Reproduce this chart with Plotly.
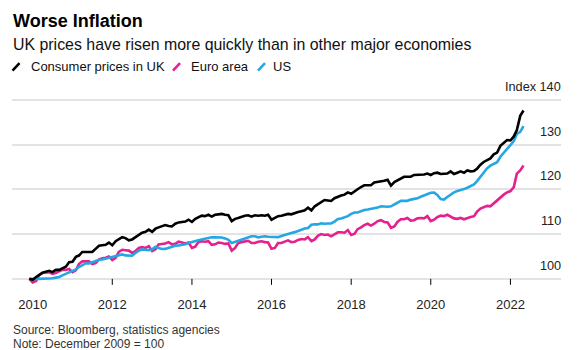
import pandas as pd
import plotly.graph_objects as go

# ---------------- data ----------------
months = pd.date_range("2009-12-01", periods=150, freq="MS")

uk = [100.0,
      99.8, 100.4, 100.8, 101.4, 101.6, 101.8, 101.5, 102.0, 102.0, 102.3, 102.7, 103.7,
      103.8, 104.9, 105.2, 106.0, 106.0, 106.0, 106.0, 106.7, 107.4, 107.5, 107.6, 108.1,
      107.5, 108.4, 108.9, 109.3, 109.1, 108.6, 108.8, 109.3, 109.7, 110.3, 110.5, 111.0,
      110.5, 111.2, 111.5, 111.8, 112.0, 111.8, 111.7, 112.3, 112.6, 112.7, 112.8, 113.2,
      112.7, 113.4, 113.7, 114.1, 114.0, 114.3, 113.9, 114.3, 114.4, 114.5, 114.3, 114.2,
      112.9, 113.4, 113.6, 113.9, 114.1, 114.2, 113.9, 114.2, 114.1, 114.2, 114.1, 114.3,
      113.2, 113.6, 114.0, 114.1, 114.3, 114.5, 114.4, 114.7, 114.9, 115.1, 115.3, 115.9,
      115.3, 116.2, 116.6, 117.2, 117.6, 117.5, 117.4, 118.0, 118.4, 118.6, 118.8, 119.3,
      119.0, 119.6, 120.0, 120.5, 120.9, 120.9, 120.9, 121.5, 121.6, 121.8, 121.9, 122.1,
      120.8, 121.6, 122.0, 122.5, 122.8, 122.8, 122.8, 123.2, 123.2, 123.3, 123.3, 123.5,
      123.2, 123.6, 123.7, 123.4, 123.4, 123.5, 124.0, 123.4, 123.7, 124.0, 123.7, 124.2,
      124.0, 124.1, 124.6, 125.5, 126.1, 126.6, 126.9, 127.8, 128.2, 129.7, 130.4, 131.0,
      130.9, 131.8, 133.2, 136.4, 137.6]

euro = [100.0,
        99.2, 99.5, 100.8, 101.3, 101.4, 101.5, 101.1, 101.3, 101.7, 102.0, 102.0, 102.2,
        101.5, 101.9, 103.3, 103.9, 103.9, 103.9, 103.3, 103.5, 104.3, 104.6, 104.7, 105.0,
        104.2, 104.7, 106.0, 106.5, 106.4, 106.3, 105.8, 106.2, 106.9, 107.1, 106.9, 107.3,
        106.2, 106.6, 107.7, 107.8, 107.9, 108.2, 107.7, 107.8, 108.3, 108.1, 107.9, 108.1,
        106.9, 107.2, 108.2, 108.4, 108.3, 108.4, 107.6, 107.7, 108.1, 108.0, 107.8, 107.9,
        106.3, 106.9, 108.0, 108.2, 108.4, 108.5, 108.0, 108.0, 108.3, 108.4, 108.2, 108.1,
        106.7, 106.9, 108.0, 108.0, 108.3, 108.6, 108.2, 108.3, 108.7, 108.9, 108.8, 109.3,
        108.4, 108.8, 109.6, 110.0, 109.8, 109.9, 109.5, 109.9, 110.4, 110.4, 110.3, 110.9,
        109.8, 110.1, 111.1, 111.5, 112.0, 112.3, 111.9, 112.3, 112.9, 113.1, 112.7, 112.6,
        111.4, 111.7, 112.7, 113.3, 113.3, 113.6, 113.0, 113.1, 113.5, 113.6, 113.5, 114.0,
        112.9, 113.2, 113.8, 114.1, 114.0, 114.3, 113.9, 113.5, 113.4, 113.6, 113.3, 113.6,
        113.8, 114.0, 115.0, 115.7, 116.0, 116.3, 116.2, 116.9, 117.4, 118.3, 118.8, 119.3,
        119.6, 120.5, 123.5, 124.2, 125.3]

us = [100.0,
      100.06, 99.97, 100.00, 100.03, 99.97, 99.93, 100.12, 100.27, 100.43, 100.78, 101.03, 101.44,
      101.77, 102.09, 102.62, 103.10, 103.43, 103.43, 103.70, 104.03, 104.26, 104.33, 104.52, 104.54,
      104.83, 105.05, 105.27, 105.45, 105.23, 105.14, 105.17, 105.78, 106.29, 106.58, 106.40, 106.38,
      106.59, 107.17, 106.87, 106.65, 106.69, 106.95, 107.16, 107.41, 107.45, 107.51, 107.71, 107.99,
      108.25, 108.37, 108.60, 108.80, 109.00, 109.15, 109.27, 109.25, 109.26, 109.24, 109.03, 108.70,
      108.01, 108.28, 108.57, 108.68, 109.04, 109.34, 109.52, 109.52, 109.27, 109.38, 109.51, 109.39,
      109.34, 109.20, 109.31, 109.58, 109.85, 110.13, 110.25, 110.43, 110.72, 110.96, 111.22, 111.35,
      112.09, 112.20, 112.16, 112.39, 112.29, 112.36, 112.39, 112.79, 113.38, 113.47, 113.77, 114.01,
      114.50, 114.81, 114.83, 115.13, 115.39, 115.49, 115.58, 115.79, 115.91, 116.22, 116.15, 116.11,
      116.20, 116.55, 116.99, 117.43, 117.46, 117.42, 117.69, 117.80, 117.98, 118.32, 118.65, 118.99,
      119.22, 119.28, 118.74, 117.80, 117.69, 118.27, 118.87, 119.31, 119.62, 119.77, 120.04, 120.34,
      120.65, 121.08, 121.83, 122.77, 123.56, 124.68, 125.27, 125.61, 126.04, 127.26, 128.15, 128.88,
      129.72, 130.75, 132.37, 132.81, 134.11]

series_names = ["Consumer prices in UK", "Euro area", "US"]
y_ticks = [100, 110, 120, 130, 140]
y_tick_text = ["100", "110", "120", "130", "Index 140"]
x_tick_years = [2010, 2012, 2014, 2016, 2018, 2020, 2022]
x_tick_marks = [2012, 2014, 2016, 2018, 2020, 2022]

title = "Worse Inflation"
subtitle = "UK prices have risen more quickly than in other major economies"
source = "Source: Bloomberg, statistics agencies"
note = "Note: December 2009 = 100"

# ---------------- style ----------------
FONT = "Liberation Sans, Arial, sans-serif"
BLACK = "#000000"
PINK = "#e6208d"
BLUE = "#24a7e3"
W, H = 581, 350
L, R = 12, 561            # plot area pixel edges
Y_LO, Y_HI = 98.4, 141.5
PX_PER_UNIT = 4.475
TOP = 100 - (Y_HI - 140) * PX_PER_UNIT
BOT = 279 + (100 - Y_LO) * PX_PER_UNIT


def px_x(px):
    return (px - L) / (R - L)


def px_y(py):
    return (BOT - py) / (BOT - TOP)


fig = go.Figure()
for name, vals, col in [(series_names[1], euro, PINK), (series_names[2], us, BLUE), (series_names[0], uk, BLACK)]:
    fig.add_trace(go.Scatter(x=months, y=vals, name=name, mode="lines",
                             line=dict(color=col, width=2.6), hoverinfo="skip"))

shapes = []
# baseline axis
shapes.append(dict(type="line", xref="paper", yref="y", x0=0, x1=1, y0=y_ticks[0], y1=y_ticks[0],
                   line=dict(color="#000", width=1.3), layer="below"))
# tick marks
for yr in x_tick_marks:
    d = f"{yr}-01-01"
    shapes.append(dict(type="line", xref="x", yref="y", x0=d, x1=d,
                       y0=y_ticks[0], y1=y_ticks[0] - 6 / PX_PER_UNIT,
                       line=dict(color="#000", width=1)))
# legend slashes
for x0, col in [(12.5, BLACK), (173, PINK), (258, BLUE)]:
    shapes.append(dict(type="line", xref="paper", yref="paper",
                       x0=px_x(x0), x1=px_x(x0 + 7), y0=px_y(71), y1=px_y(63.5),
                       line=dict(color=col, width=2.5)))

ann = []
ann.append(dict(text=f"<b>{title}</b>", x=px_x(11), y=px_y(21.5), xanchor="left", yanchor="middle",
                font=dict(size=18, color="#000", family=FONT)))
ann.append(dict(text=subtitle, x=px_x(11), y=px_y(44.5), xanchor="left", yanchor="middle",
                font=dict(size=15.9, color="#111", family=FONT)))
for x0, name in [(28.5, series_names[0]), (188.5, series_names[1]), (271, series_names[2])]:
    ann.append(dict(text=name, x=px_x(x0), y=px_y(67), xanchor="left", yanchor="middle",
                    font=dict(size=13, color="#111", family=FONT)))
for v, t in zip(y_ticks, y_tick_text):
    ann.append(dict(text=t, xref="paper", yref="y", x=px_x(563), y=v, yshift=13,
                    xanchor="right", yanchor="middle",
                    font=dict(size=12.7, color="#222", family=FONT)))
ann.append(dict(text=source, x=px_x(11), y=px_y(330.5), xanchor="left", yanchor="middle",
                font=dict(size=12, color="#333", family=FONT)))
ann.append(dict(text=note, x=px_x(11), y=px_y(344), xanchor="left", yanchor="middle",
                font=dict(size=12, color="#333", family=FONT)))
for a in ann:
    a.setdefault("xref", "paper")
    a.setdefault("yref", "paper")
    a["showarrow"] = False

fig.update_layout(
    width=W, height=H, autosize=False,
    margin=dict(l=L, r=W - R, t=TOP, b=H - BOT, pad=0),
    paper_bgcolor="white", plot_bgcolor="white",
    showlegend=False,
    shapes=shapes, annotations=ann,
    xaxis=dict(type="date", range=["2009-06-25", "2023-04-10"],
               tickvals=[f"{y}-01-01" for y in x_tick_years],
               ticktext=[str(y) for y in x_tick_years],
               ticks="outside", ticklen=6, tickcolor="rgba(0,0,0,0)",
               showgrid=False, zeroline=False, showline=False,
               tickfont=dict(size=13, color="#222", family=FONT)),
    yaxis=dict(range=[Y_LO, Y_HI], tickvals=y_ticks, showticklabels=False,
               showgrid=True, gridcolor="#e3e3e3", gridwidth=2,
               zeroline=False, showline=False, ticks=""),
)

fig.write_html("out.html")
